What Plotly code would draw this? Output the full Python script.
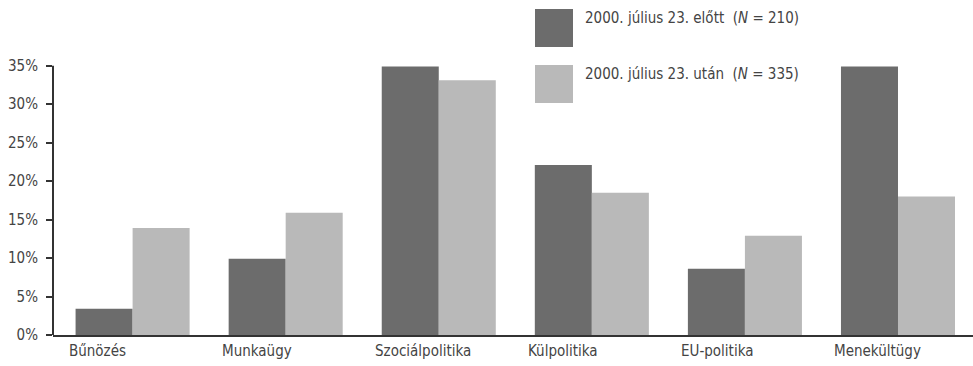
import plotly.graph_objects as go

categories = ["Bűnözés", "Munkaügy", "Szociálpolitika", "Külpolitika", "EU-politika", "Menekültügy"]
before_values = [3.4, 9.9, 34.9, 22.1, 8.6, 34.9]
after_values = [13.9, 15.9, 33.1, 18.5, 12.9, 18.0]
series_names = ["2000. július 23. előtt  (<i>N</i> = 210)", "2000. július 23. után  (<i>N</i> = 335)"]
y_ticks = [0, 5, 10, 15, 20, 25, 30, 35]
y_tick_labels = ["0%", "5%", "10%", "15%", "20%", "25%", "30%", "35%"]

DARK = "#6c6c6c"
LIGHT = "#b9b9b9"
FONT = "Liberation Sans Narrow, DejaVu Sans Condensed, Arial Narrow, sans-serif"
TEXT = "#444444"

x_idx = list(range(len(categories)))

fig = go.Figure()
fig.add_trace(go.Bar(x=x_idx, y=before_values, name=series_names[0],
                     marker=dict(color=DARK, line=dict(width=0)), showlegend=False))
fig.add_trace(go.Bar(x=x_idx, y=after_values, name=series_names[1],
                     marker=dict(color=LIGHT, line=dict(width=0)), showlegend=False))

fig.update_layout(
    width=973, height=366,
    margin=dict(l=53, r=0, t=58, b=31),
    paper_bgcolor="white", plot_bgcolor="white",
    barmode="group", bargap=0.255, bargroupgap=0,
    font=dict(family=FONT, size=14, color=TEXT),
    xaxis=dict(range=[-0.52, 5.49], showticklabels=False, ticks="",
               showgrid=False, zeroline=False,
               showline=True, linecolor="#333333", linewidth=2),
    yaxis=dict(range=[0, 36], tickvals=y_ticks, ticktext=y_tick_labels,
               ticks="outside", ticklen=6, tickwidth=1.5, tickcolor="#333333",
               ticklabelstandoff=5,
               showgrid=False, zeroline=False, showline=False,
               tickfont=dict(family=FONT, size=15, color=TEXT)),
)

# vertical axis line running from 0% up to the 35% tick
fig.add_shape(type="line", xref="paper", yref="y", x0=0, x1=0, y0=0, y1=35,
              line=dict(color="#333333", width=2))

# category labels, left-aligned near each group's first bar
for i, cat in enumerate(categories):
    fig.add_annotation(x=i - 0.43, y=0, xref="x", yref="y", text=cat,
                       showarrow=False, xanchor="left", yanchor="top", yshift=-5,
                       font=dict(family=FONT, size=15, color=TEXT))

# legend: large swatches with labels
legend_colors = [DARK, LIGHT]
legend_y = [28, 84]  # swatch centers in pixels from top
for name, color, yc in zip(series_names, legend_colors, legend_y):
    y_top = 1 - (yc - 19 - 58) / 277
    y_bot = 1 - (yc + 19 - 58) / 277
    x0 = (535 - 53) / 920
    x1 = (573 - 53) / 920
    fig.add_shape(type="rect", xref="paper", yref="paper", x0=x0, x1=x1,
                  y0=y_bot, y1=y_top, line=dict(width=0), fillcolor=color)
    fig.add_annotation(xref="paper", yref="paper", x=(583 - 53) / 920,
                       y=1 - (yc - 10 - 58) / 277, text=name, showarrow=False,
                       xanchor="left", yanchor="middle",
                       font=dict(family=FONT, size=15, color=TEXT))

fig.write_html("out.html")
